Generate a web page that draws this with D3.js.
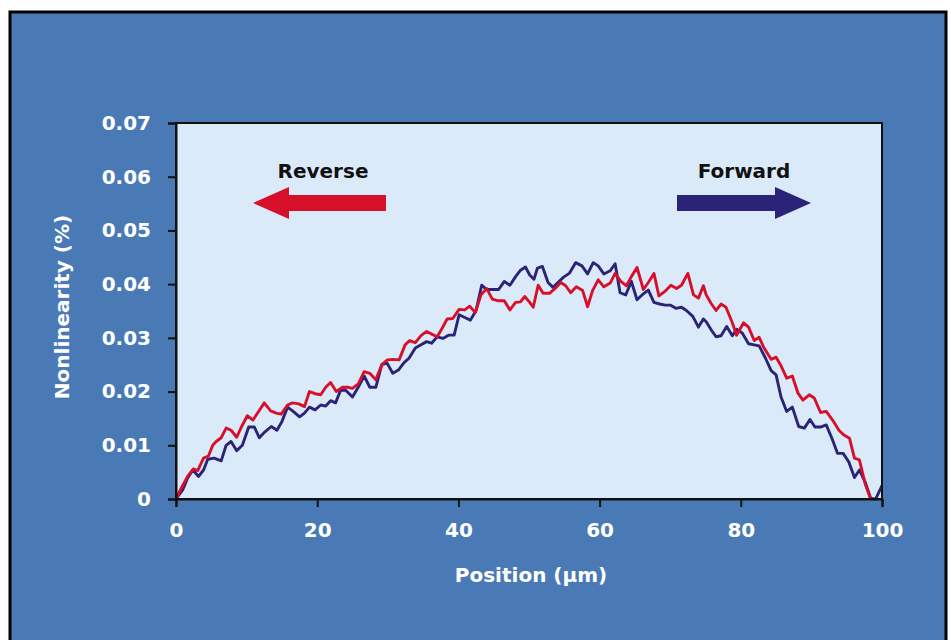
<!DOCTYPE html>
<html>
<head>
<meta charset="utf-8">
<script src="https://cdn.jsdelivr.net/npm/d3@7"></script>
<style>
  html, body { margin: 0; padding: 0; background: #ffffff; }
  svg { display: block; }
  text { font-family: "DejaVu Sans", sans-serif; font-weight: bold; }
</style>
</head>
<body>
<svg id="chart" width="951" height="640"></svg>
<script>
// Nonlinearity (%) against position (µm), forward and reverse scans
const forwardScan = [
  [0,0],[0.95,0.0017],[1.65,0.0039],[2.4,0.0054],[3.2,0.0042],[3.9,0.0054],[4.5,0.0074],[5.4,0.0076],
  [6.4,0.0071],[7.1,0.010],[7.8,0.0107],[8.6,0.009],[9.4,0.010],[10.3,0.0134],[11.1,0.0134],[11.8,0.0114],
  [12.6,0.0125],[13.5,0.0135],[14.3,0.0128],[15,0.0144],[15.8,0.0171],[16.6,0.0163],[17.5,0.0153],[18.2,0.016],
  [18.9,0.0171],[19.7,0.0166],[20.5,0.0175],[21.2,0.0173],[21.9,0.0183],[22.6,0.0179],[23.3,0.0202],[24,0.0203],
  [25,0.019],[25.85,0.0209],[26.65,0.0229],[27.45,0.0208],[28.3,0.0208],[29.15,0.025],[29.9,0.0253],[30.7,0.0234],
  [31.5,0.024],[32.3,0.0254],[33,0.0262],[33.9,0.0281],[34.7,0.0287],[35.5,0.0293],[36.2,0.029],[37,0.0302],
  [37.8,0.0299],[38.6,0.0305],[39.4,0.0305],[40.1,0.0343],[40.9,0.0338],[41.7,0.0333],[42.5,0.0351],[43.3,0.0398],
  [44,0.039],[44.8,0.039],[45.7,0.039],[46.5,0.0405],[47.3,0.0398],[48.1,0.0414],[48.8,0.0426],[49.5,0.0432],
  [50.1,0.0417],[50.7,0.0409],[51.2,0.043],[51.9,0.0433],[52.7,0.0403],[53.4,0.0394],[54.1,0.0403],[54.9,0.0413],
  [55.7,0.042],[56.6,0.044],[57.5,0.0434],[58.3,0.0419],[59.1,0.044],[59.8,0.0434],[60.6,0.0419],[61.5,0.0425],
  [62.2,0.0438],[62.9,0.0384],[63.7,0.038],[64.5,0.0405],[65.3,0.0371],[66.2,0.0382],[66.9,0.0389],[67.7,0.0366],
  [68.5,0.0363],[69.3,0.0361],[70,0.0361],[70.8,0.0355],[71.6,0.0357],[72.3,0.0351],[73.2,0.034],[74,0.032],
  [74.7,0.0335],[75.1,0.033],[75.8,0.0315],[76.5,0.0302],[77.2,0.0304],[78,0.0321],[78.8,0.0304],[79.4,0.0316],
  [80.2,0.0309],[81.1,0.0289],[81.9,0.0287],[82.6,0.0285],[83.5,0.0262],[84.3,0.0239],[85,0.0231],[85.7,0.019],
  [86.5,0.0163],[87.3,0.0171],[88.2,0.0135],[89,0.0132],[89.8,0.0148],[90.5,0.0134],[91.3,0.0134],[92.1,0.0138],
  [92.9,0.0113],[93.7,0.0085],[94.5,0.0085],[95.3,0.0069],[96.1,0.004],[96.8,0.0054],[97.6,0.0032],[98.4,0.0001],
  [99.1,0],[100,0.0025]
];

const reverseScan = [
  [0,0],[0.85,0.0023],[1.65,0.0042],[2.45,0.0056],[3.07,0.0053],[3.9,0.0076],[4.6,0.008],[5.2,0.010],
  [5.7,0.0107],[6.4,0.0114],[7.1,0.0132],[7.8,0.0128],[8.6,0.0115],[9.3,0.0135],[10.1,0.0155],[10.9,0.0147],
  [11.7,0.0163],[12.5,0.0179],[13.4,0.0164],[14.2,0.016],[14.9,0.0158],[15.8,0.0175],[16.5,0.0179],[17.4,0.0177],
  [18.2,0.0172],[18.9,0.020],[19.7,0.0196],[20.5,0.0194],[21.2,0.0208],[21.9,0.0217],[22.7,0.020],[23.6,0.0208],
  [24.3,0.0208],[25,0.0206],[25.85,0.0215],[26.65,0.0237],[27.45,0.0234],[28.3,0.0222],[29.15,0.025],[29.95,0.0259],
  [30.75,0.026],[31.6,0.0259],[32.45,0.0287],[33.1,0.0295],[33.9,0.0291],[34.7,0.0304],[35.5,0.0312],[36.2,0.0307],
  [37,0.0302],[37.7,0.0318],[38.4,0.0335],[39.2,0.0336],[40.1,0.0353],[40.9,0.0352],[41.6,0.0359],[42.4,0.0347],
  [43.2,0.038],[44,0.0392],[44.8,0.0372],[45.7,0.0369],[46.5,0.0369],[47.3,0.0352],[48.1,0.0366],[48.8,0.0367],
  [49.4,0.0377],[50.1,0.0366],[50.6,0.0357],[51.3,0.0398],[52,0.0383],[52.9,0.0383],[53.7,0.0392],[54.5,0.0403],
  [55.2,0.0397],[55.9,0.0384],[56.7,0.0395],[57.6,0.0388],[58.3,0.0358],[59,0.0388],[59.8,0.0408],[60.6,0.0395],
  [61.5,0.0402],[62.2,0.042],[63,0.0405],[63.8,0.0397],[64.5,0.0414],[65.3,0.0431],[66.2,0.039],[66.9,0.0403],
  [67.7,0.042],[68.4,0.0378],[69.2,0.0386],[70.1,0.0398],[70.9,0.0392],[71.6,0.0398],[72.5,0.042],[73.3,0.038],
  [74,0.0374],[74.7,0.0397],[75.1,0.038],[75.8,0.0364],[76.5,0.0351],[77.2,0.0363],[77.9,0.0357],[78.8,0.0328],
  [79.4,0.0305],[80.4,0.0328],[81.1,0.032],[81.9,0.0295],[82.6,0.0301],[83.3,0.0281],[84.3,0.026],[85,0.0264],
  [85.7,0.0248],[86.5,0.0225],[87.3,0.0229],[88.1,0.0197],[88.8,0.0184],[89.7,0.0194],[90.4,0.0188],[91.3,0.0161],
  [92.1,0.0163],[93,0.0147],[93.9,0.0128],[94.6,0.0119],[95.4,0.0113],[96.1,0.0076],[96.8,0.0073],[97.6,0.0029],
  [98.4,0]
];

const xTicks = [0, 20, 40, 60, 80, 100];
const yTicks = [0, 0.01, 0.02, 0.03, 0.04, 0.05, 0.06, 0.07];
const yTickLabels = ["0", "0.01", "0.02", "0.03", "0.04", "0.05", "0.06", "0.07"];
const seriesNames = ["Reverse", "Forward"];

const colors = {
  panel: "#4a7ab5",
  plot: "#dbeaf8",
  reverse: "#d6102b",
  forward: "#2b2377"
};

const svg = d3.select("#chart");

// outer blue panel with black frame
svg.append("rect")
  .attr("x", 10).attr("y", 12)
  .attr("width", 936).attr("height", 640)
  .attr("fill", colors.panel)
  .attr("stroke", "#000").attr("stroke-width", 3);

const plot = { left: 176, right: 882, top: 123, bottom: 499 };

const x = d3.scaleLinear().domain([0, 100]).range([plot.left, plot.right]);
const y = d3.scaleLinear().domain([0, 0.07]).range([plot.bottom, plot.top]);

svg.append("rect")
  .attr("x", plot.left).attr("y", plot.top)
  .attr("width", plot.right - plot.left).attr("height", plot.bottom - plot.top)
  .attr("fill", colors.plot);

// series lines
const line = d3.line().x(d => x(d[0])).y(d => y(d[1]));

const g = svg.append("g");
g.append("path").datum(forwardScan)
  .attr("d", line).attr("fill", "none")
  .attr("stroke", colors.forward).attr("stroke-width", 2.9)
  .attr("stroke-linejoin", "round");
g.append("path").datum(reverseScan)
  .attr("d", line).attr("fill", "none")
  .attr("stroke", colors.reverse).attr("stroke-width", 2.9)
  .attr("stroke-linejoin", "round");

// plot frame
svg.append("rect")
  .attr("x", plot.left).attr("y", plot.top)
  .attr("width", plot.right - plot.left).attr("height", plot.bottom - plot.top)
  .attr("fill", "none").attr("stroke", "#111").attr("stroke-width", 2);

// axes
const yAxis = d3.axisLeft(y).tickValues(yTicks)
  .tickFormat((d, i) => yTickLabels[i]).tickSize(8).tickPadding(17);
const yG = svg.append("g").attr("transform", `translate(${plot.left},0)`).call(yAxis);

const xAxis = d3.axisBottom(x).tickValues(xTicks).tickSize(8).tickPadding(16);
const xG = svg.append("g").attr("transform", `translate(0,${plot.bottom})`).call(xAxis);

[yG, xG].forEach(a => {
  a.select(".domain").attr("stroke", "#111").attr("stroke-width", 2);
  a.selectAll(".tick line").attr("stroke", "#111").attr("stroke-width", 2);
  a.selectAll(".tick text")
    .attr("fill", "#ffffff")
    .style("font-size", "20px")
    .style("font-family", "'DejaVu Sans', sans-serif")
    .style("font-weight", "bold");
});

// axis titles
svg.append("text")
  .attr("x", (plot.left + plot.right) / 2 + 2).attr("y", 582)
  .attr("text-anchor", "middle").attr("fill", "#fff")
  .style("font-size", "20px")
  .text("Position (µm)");

svg.append("text")
  .attr("transform", `translate(69,${(plot.top + plot.bottom) / 2 - 4}) rotate(-90)`)
  .attr("text-anchor", "middle").attr("fill", "#fff")
  .style("font-size", "20px")
  .text("Nonlinearity (%)");

// direction arrows with labels
function arrow(x0, x1, yc, color, pointLeft) {
  const shaft = 8, head = 16, headLen = 36;
  let pts;
  if (pointLeft) {
    pts = [[x0, yc], [x0 + headLen, yc - head], [x0 + headLen, yc - shaft], [x1, yc - shaft],
           [x1, yc + shaft], [x0 + headLen, yc + shaft], [x0 + headLen, yc + head]];
  } else {
    pts = [[x1, yc], [x1 - headLen, yc - head], [x1 - headLen, yc - shaft], [x0, yc - shaft],
           [x0, yc + shaft], [x1 - headLen, yc + shaft], [x1 - headLen, yc + head]];
  }
  svg.append("polygon").attr("points", pts.map(p => p.join(",")).join(" ")).attr("fill", color);
}

arrow(253, 386, 203, colors.reverse, true);
arrow(677, 811, 203, colors.forward, false);

svg.append("text").attr("x", 323).attr("y", 178)
  .attr("text-anchor", "middle").attr("fill", "#111")
  .style("font-size", "20px").text(seriesNames[0]);
svg.append("text").attr("x", 744).attr("y", 178)
  .attr("text-anchor", "middle").attr("fill", "#111")
  .style("font-size", "20px").text(seriesNames[1]);
</script>
</body>
</html>
